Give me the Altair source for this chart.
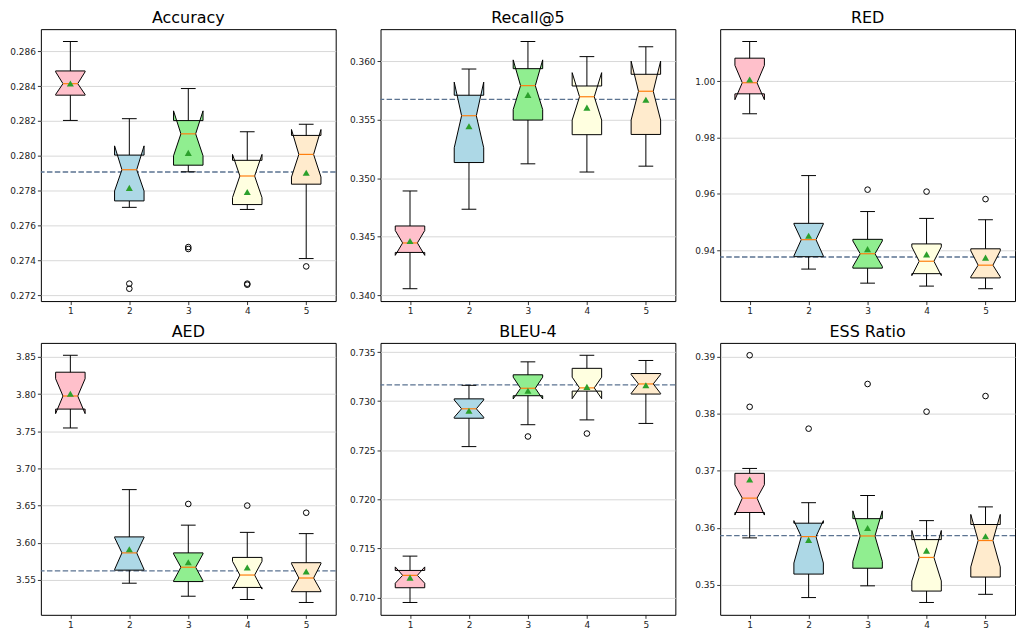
import altair as alt
import pandas as pd

# ---------------- data ----------------
METRICS = ["Accuracy", "Recall@5", "RED", "AED", "BLEU-4", "ESS Ratio"]
POSITIONS = [1, 2, 3, 4, 5]

WHISK_LO = [
    [0.28203, 0.27704, 0.27908, 0.27692, 0.27410],
    [0.34056, 0.34735, 0.35123, 0.35053, 0.35103],
    [0.98849, 0.93326, 0.92826, 0.92721, 0.92628],
    [3.7544, 3.5456, 3.5281, 3.5237, 3.5197],
    [0.70950, 0.72537, 0.72760, 0.72809, 0.72773],
    [0.35824, 0.34777, 0.34983, 0.34691, 0.34834],
]
Q1 = [
    [0.28348, 0.27741, 0.27946, 0.27720, 0.27837],
    [0.34366, 0.35134, 0.35497, 0.35372, 0.35374],
    [0.99558, 0.93767, 0.93360, 0.93163, 0.93012],
    [3.7798, 3.5632, 3.5478, 3.5399, 3.5342],
    [0.71100, 0.72826, 0.73055, 0.73102, 0.73072],
    [0.36270, 0.35189, 0.35292, 0.34891, 0.35137],
]
NOTCH_LO = [
    [0.28352, 0.27798, 0.28000, 0.27760, 0.27878],
    [0.34341, 0.35260, 0.35587, 0.35497, 0.35497],
    [0.99349, 0.93791, 0.93419, 0.93093, 0.93050],
    [3.7737, 3.5640, 3.5487, 3.5377, 3.5351],
    [0.71146, 0.72836, 0.73022, 0.73025, 0.73078],
    [0.36225, 0.35383, 0.35412, 0.35069, 0.35315],
]
MEDIAN = [
    [0.28414, 0.27920, 0.28126, 0.27884, 0.28008],
    [0.34447, 0.35534, 0.35791, 0.35696, 0.35743],
    [0.99953, 0.94372, 0.93872, 0.93605, 0.93465],
    [3.7974, 3.5864, 3.5671, 3.5566, 3.5526],
    [0.71226, 0.72922, 0.73131, 0.73135, 0.73175],
    [0.36522, 0.35847, 0.35858, 0.35481, 0.35778],
]
NOTCH_HI = [
    [0.28482, 0.28057, 0.28258, 0.28008, 0.28151],
    [0.34553, 0.35821, 0.36011, 0.35902, 0.36000],
    [1.00570, 0.94930, 0.94326, 0.94116, 0.93977],
    [3.8206, 3.6070, 3.5851, 3.5750, 3.5719],
    [0.71312, 0.73012, 0.73244, 0.73244, 0.73271],
    [0.36757, 0.36127, 0.36299, 0.35954, 0.36236],
]
Q3 = [
    [0.28487, 0.28004, 0.28202, 0.27974, 0.28117],
    [0.34592, 0.35709, 0.35936, 0.35788, 0.35888],
    [1.00826, 0.94953, 0.94384, 0.94221, 0.94047],
    [3.8294, 3.6079, 3.5864, 3.5803, 3.5732],
    [0.71276, 0.73023, 0.73268, 0.73334, 0.73281],
    [0.36957, 0.36082, 0.36162, 0.35794, 0.36059],
]
WHISK_HI = [
    [0.28656, 0.28213, 0.28386, 0.28138, 0.28181],
    [0.34891, 0.35933, 0.36168, 0.36039, 0.36123],
    [1.01419, 0.96651, 0.95372, 0.95128, 0.95081],
    [3.8522, 3.6715, 3.6237, 3.6140, 3.6123],
    [0.71422, 0.73161, 0.73400, 0.73467, 0.73414],
    [0.37043, 0.36442, 0.36568, 0.36127, 0.36368],
]
MEAN = [
    [0.28415, 0.27816, 0.28017, 0.27792, 0.27903],
    [0.34464, 0.35444, 0.35712, 0.35603, 0.35670],
    [1.00070, 0.94512, 0.94035, 0.93849, 0.93733],
    [3.8004, 3.5912, 3.5737, 3.5667, 3.5614],
    [0.71203, 0.72902, 0.73105, 0.73145, 0.73161],
    [0.36848, 0.35790, 0.35999, 0.35601, 0.35853],
]
FLIERS = [
    [[], [0.27266, 0.27237], [0.27476, 0.27465], [0.27266, 0.27260], [0.27365]],
    [[], [], [], [], []],
    [[], [], [0.96151], [0.96081], [0.95814]],
    [[], [], [3.6522], [3.6500], [3.6404]],
    [[], [], [0.72640], [0.72670], []],
    [[0.39029, 0.38124], [0.37741], [0.38525], [0.38039], [0.38313]],
]
REF_LINE = [0.27907, 0.35673, 0.93756, 3.5623, 0.73165, 0.35864]

Y_TICKS = [
    [0.272, 0.274, 0.276, 0.278, 0.280, 0.282, 0.284, 0.286],
    [0.340, 0.345, 0.350, 0.355, 0.360],
    [0.94, 0.96, 0.98, 1.00],
    [3.55, 3.60, 3.65, 3.70, 3.75, 3.80, 3.85],
    [0.710, 0.715, 0.720, 0.725, 0.730, 0.735],
    [0.35, 0.36, 0.37, 0.38, 0.39],
]
Y_FORMAT = [".3f", ".3f", ".2f", ".2f", ".3f", ".2f"]

# ---------------- styles ----------------
BOX_COLORS = ["#ffc0cb", "#add8e6", "#90ee90", "#ffffe0", "#ffebcd"]
MEDIAN_COLOR = "#ff7f0e"
MEAN_COLOR = "#2ca02c"
REF_COLOR = "#5b7391"
BOX_HALF = 0.25
NOTCH_HALF = 0.125
CAP_HALF = 0.125
W, H = 296, 273
FONT = "DejaVu Sans"


def panel(k):
    flier_vals = [v for fl in FLIERS[k] for v in fl]
    lo = min(WHISK_LO[k] + flier_vals)
    hi = max(WHISK_HI[k] + flier_vals)
    pad = 0.05 * (hi - lo)
    xs = alt.Scale(domain=[0.5, 5.5], nice=False, zero=False)
    ys = alt.Scale(domain=[lo - pad, hi + pad], nice=False, zero=False)
    xax = alt.Axis(values=POSITIONS, format="d", grid=False, title=None,
                   labelAngle=0)
    yax = alt.Axis(values=Y_TICKS[k], format=Y_FORMAT[k], grid=True,
                   title=None, minExtent=32, maxExtent=32)

    def X(f):
        return alt.X(f, type="quantitative", scale=xs, axis=xax)

    def Y(f):
        return alt.Y(f, type="quantitative", scale=ys, axis=yax)

    stats = pd.DataFrame({
        "pos": POSITIONS,
        "wlo": WHISK_LO[k], "q1": Q1[k], "clo": NOTCH_LO[k],
        "med": MEDIAN[k], "chi": NOTCH_HI[k], "q3": Q3[k],
        "whi": WHISK_HI[k], "mean": MEAN[k],
    })
    stats["capl"] = stats["pos"] - CAP_HALF
    stats["capr"] = stats["pos"] + CAP_HALF
    stats["nl"] = stats["pos"] - NOTCH_HALF
    stats["nr"] = stats["pos"] + NOTCH_HALF
    base = alt.Chart(stats)

    layers = []
    layers.append(
        alt.Chart(pd.DataFrame({"v": [REF_LINE[k]]}))
        .mark_rule(color=REF_COLOR, strokeDash=[5.5, 2.4], strokeWidth=1.3)
        .encode(y=Y("v"))
    )
    layers.append(
        base.mark_rule(color="black", strokeWidth=1)
        .encode(x=X("pos"), y=Y("wlo"), y2="whi")
    )
    layers.append(
        base.mark_rule(color="black", strokeWidth=1)
        .encode(x=X("capl"), x2="capr", y=Y("wlo"))
    )
    layers.append(
        base.mark_rule(color="black", strokeWidth=1)
        .encode(x=X("capl"), x2="capr", y=Y("whi"))
    )
    for j, p in enumerate(POSITIONS):
        bl, br = p - BOX_HALF, p + BOX_HALF
        nl, nr = p - NOTCH_HALF, p + NOTCH_HALF
        q1, q3 = Q1[k][j], Q3[k][j]
        clo, chi, med = NOTCH_LO[k][j], NOTCH_HI[k][j], MEDIAN[k][j]
        vx = [bl, br, br, nr, br, br, bl, bl, nl, bl, bl]
        vy = [q1, q1, clo, med, chi, q3, q3, chi, med, clo, q1]
        poly = pd.DataFrame({"i": list(range(len(vx))), "vx": vx, "vy": vy})
        layers.append(
            alt.Chart(poly)
            .mark_line(fill=BOX_COLORS[j], stroke="black", strokeWidth=1,
                       strokeJoin="miter", interpolate="linear")
            .encode(x=X("vx"), y=Y("vy"), order=alt.Order("i:Q"))
        )
    layers.append(
        base.mark_rule(color=MEDIAN_COLOR, strokeWidth=1.2)
        .encode(x=X("nl"), x2="nr", y=Y("med"))
    )
    layers.append(
        base.mark_point(shape="triangle-up", filled=True, color=MEAN_COLOR,
                        size=50, opacity=1)
        .encode(x=X("pos"), y=Y("mean"))
    )
    fl_rows = [(p, v) for p, fl in zip(POSITIONS, FLIERS[k]) for v in fl]
    if fl_rows:
        fl_df = pd.DataFrame(fl_rows, columns=["pos", "v"])
        layers.append(
            alt.Chart(fl_df)
            .mark_point(shape="circle", filled=False, color="black", size=32,
                        strokeWidth=1, opacity=1)
            .encode(x=X("pos"), y=Y("v"))
        )
    return alt.layer(*layers).properties(
        width=W, height=H,
        title=alt.TitleParams(text=METRICS[k], fontSize=16, font=FONT,
                              fontWeight="normal", color="black", offset=3),
    )


row1 = alt.hconcat(panel(0), panel(1), panel(2), spacing=10)
row2 = alt.hconcat(panel(3), panel(4), panel(5), spacing=10)
chart = (
    alt.vconcat(row1, row2, spacing=7)
    .properties(padding=0, background="white")
    .configure_view(stroke="black", strokeWidth=1)
    .configure_axis(labelFont=FONT, labelFontSize=9, labelColor="#222222",
                    tickColor="black", tickSize=3.5, tickWidth=0.8,
                    labelPadding=2, domain=False, gridColor="#d3d3d3",
                    gridWidth=0.9)
)

chart.save("out.html", embed_options={"renderer": "svg", "actions": False})
